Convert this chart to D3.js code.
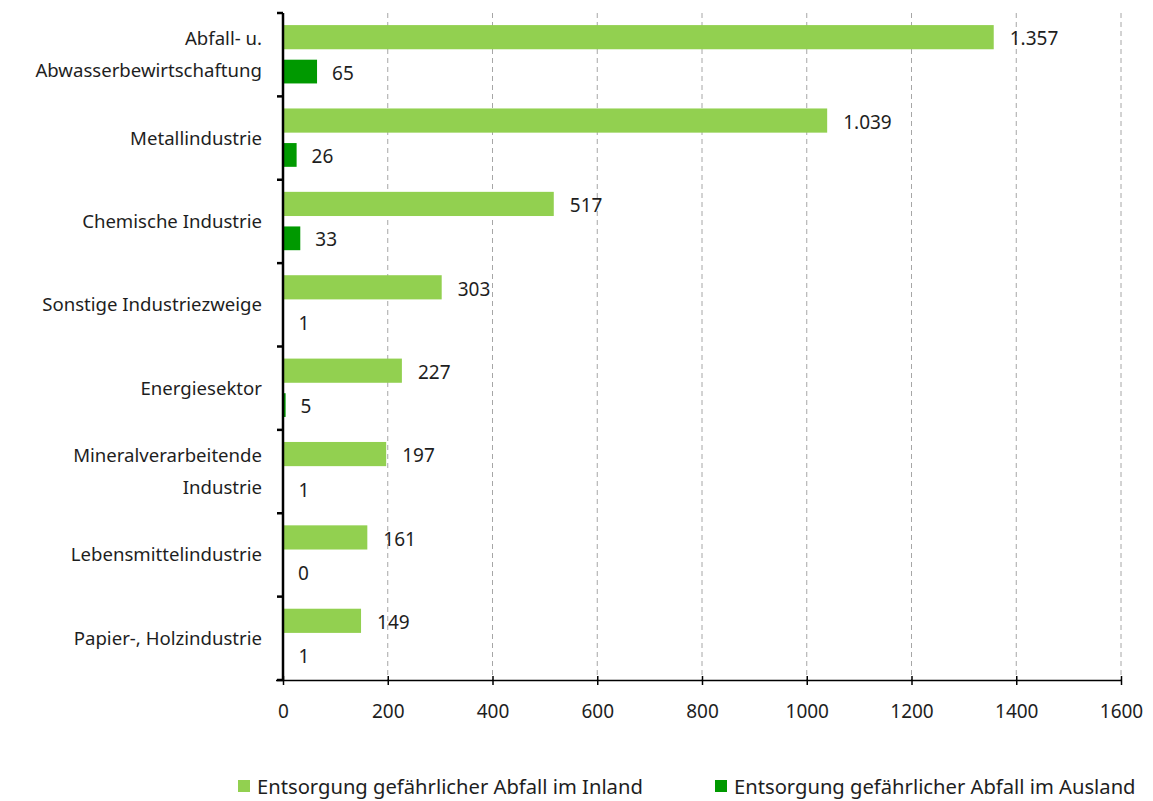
<!DOCTYPE html>
<html><head><meta charset="utf-8">
<script src="https://cdn.jsdelivr.net/npm/d3@7"></script>
<style>body{margin:0;background:#fff;} text{font-family:"Noto Sans",sans-serif;fill:#1e1e1e;}</style>
</head><body>
<svg id="c" width="1153" height="801"></svg>
<script>
const categories = [
  ["Abfall- u.","Abwasserbewirtschaftung"],
  ["Metallindustrie"],
  ["Chemische Industrie"],
  ["Sonstige Industriezweige"],
  ["Energiesektor"],
  ["Mineralverarbeitende","Industrie"],
  ["Lebensmittelindustrie"],
  ["Papier-, Holzindustrie"]
];
const inland = [1357, 1039, 517, 303, 227, 197, 161, 149];
const ausland = [65, 26, 33, 1, 5, 1, 0, 1];
const xTicks = [0, 200, 400, 600, 800, 1000, 1200, 1400, 1600];
const seriesNames = ["Entsorgung gefährlicher Abfall im Inland", "Entsorgung gefährlicher Abfall im Ausland"];
const colors = ["#92d050", "#009900"];

(function(){
const svg = d3.select("#c");
const pL = 283, pR = 1121, pT = 13, pB = 680;
const x = d3.scaleLinear().domain([0, 1600]).range([pL, pR]);
const y = d3.scaleBand().domain(d3.range(categories.length)).range([pT, pB]);
const fmt = d3.formatLocale({decimal: ",", thousands: ".", grouping: [3], currency: ["", "€"]}).format(",");

// grid
svg.append("g").selectAll("line").data(xTicks.slice(1)).join("line")
  .attr("x1", d => x(d)).attr("x2", d => x(d)).attr("y1", pT).attr("y2", pB)
  .attr("stroke", "#a6a6a6").attr("stroke-width", 1).attr("stroke-dasharray", "5,4");

// bars
const bw = y.bandwidth();
const g = svg.append("g");
categories.forEach((c, i) => {
  const y0 = y(i);
  g.append("rect").attr("x", x(0)).attr("y", y0 + bw*0.145).attr("width", x(inland[i]) - x(0)).attr("height", bw*0.29).attr("fill", colors[0]);
  g.append("rect").attr("x", x(0)).attr("y", y0 + bw*0.56).attr("width", x(ausland[i]) - x(0)).attr("height", bw*0.285).attr("fill", colors[1]);
  g.append("text").attr("x", x(inland[i]) + 16).attr("y", y0 + bw*0.31).attr("dy", "0.35em").attr("font-size", 19).text(fmt(inland[i]));
  g.append("text").attr("x", x(ausland[i]) + 15).attr("y", y0 + bw*0.72).attr("dy", "0.35em").attr("font-size", 19).text(fmt(ausland[i]));
  const lines = c;
  const cy = y0 + bw/2;
  lines.forEach((l, j) => {
    g.append("text").attr("x", 262).attr("y", cy + (j - (lines.length-1)/2)*32).attr("dy", "0.35em")
      .attr("text-anchor", "end").attr("font-size", 18.6).text(l);
  });
});

// x axis
const xa = svg.append("g").attr("transform", `translate(0,${pB})`)
  .call(d3.axisBottom(x).tickValues(xTicks).tickSize(6).tickFormat(d => d));
xa.select(".domain").attr("d", `M${pL-7},0.5H${pR}`).attr("stroke", "#000").attr("stroke-width", 1.5);
xa.selectAll(".tick line").attr("stroke", "#000").attr("stroke-width", 1.5).attr("y1", -4).attr("y2", 5);
xa.selectAll(".tick text").attr("font-size", 19).attr("font-family", "Noto Sans").attr("fill", "#1e1e1e").attr("y", 31).attr("dy", "0.35em");

// y axis
const ya = svg.append("g").attr("transform", `translate(${pL},0)`);
ya.append("line").attr("x1", 0).attr("x2", 0).attr("y1", pT).attr("y2", pB).attr("stroke", "#000").attr("stroke-width", 2.5);
ya.selectAll(".t").data(d3.range(categories.length + 1)).join("line")
  .attr("x1", -6).attr("x2", 0).attr("y1", d => pT + d*bw).attr("y2", d => pT + d*bw)
  .attr("stroke", "#000").attr("stroke-width", 2.5);

// legend
const lg = svg.append("g");
[238, 715].forEach((lx, i) => {
  lg.append("rect").attr("x", lx).attr("y", 780).attr("width", 12).attr("height", 12).attr("fill", colors[i]);
  lg.append("text").attr("x", lx + 19).attr("y", 787).attr("dy", "0.35em").attr("font-size", 20.2)
    .text(seriesNames[i]);
});
})();
</script>
</body></html>
